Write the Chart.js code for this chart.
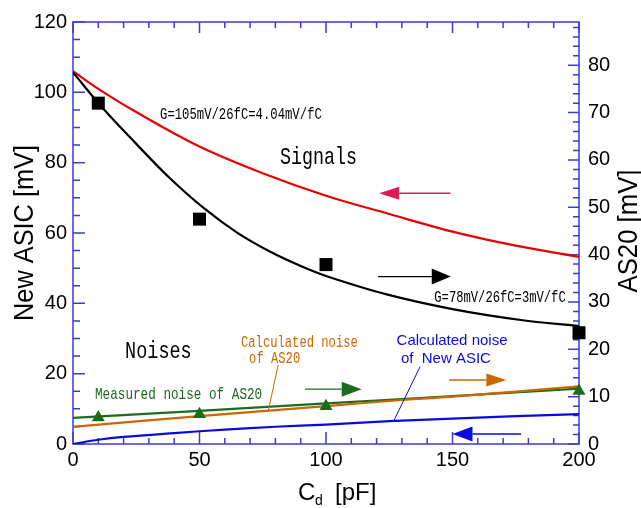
<!DOCTYPE html>
<html>
<head>
<meta charset="utf-8">
<script src="https://cdn.jsdelivr.net/npm/chart.js@4.4.1/dist/chart.umd.min.js"></script>
<style>
  html, body { margin: 0; padding: 0; background: #fff; }
  #wrap { position: relative; width: 641px; height: 508px; }
</style>
</head>
<body>
<div id="wrap"><canvas id="cdChart"></canvas></div>
<script>
(function () {
  "use strict";

  // signal gains at Cd = 0 (mV for 26 fC), used to line up the two y axes
  var asicGain = 105;
  var as20Gain = 78;

  var xTicks = [0, 50, 100, 150, 200];

  // New ASIC signal (left axis)
  var asicSignalCd = [0, 10, 25, 50, 75, 100, 125, 150, 175, 200];
  var asicSignalMv = [106, 101, 94.4, 84.6, 77, 70.6, 65.4, 60.4, 56.4, 53.2];

  // AS20 signal curve and measured points (right axis)
  var as20FitCd = [0, 12, 25, 38, 52, 65, 78, 90, 100, 124, 150, 177, 200];
  var as20FitMv = [78.5, 70.8, 63.4, 56.3, 49.7, 44.6, 40.6, 37.6, 35.5, 31.6, 28.5, 26.2, 24.9];
  var as20MeasCd = [10, 50, 100, 200];
  var as20MeasMv = [72.0, 47.5, 37.9, 23.5];

  // noises
  var as20NoiseLineCd = [0, 50, 100, 150, 200];
  var as20NoiseLineMv = [5.5, 7.0, 8.6, 10.1, 11.7];
  var as20NoiseMeasCd = [10, 50, 100, 200];
  var as20NoiseMeasMv = [5.6, 6.3, 8.0, 11.2];
  var as20NoiseCalcCd = [0, 50, 100, 130, 150, 200];
  var as20NoiseCalcMv = [3.6, 5.9, 8.0, 9.3, 10.0, 12.2];
  var asicNoiseCd = [0, 10, 20, 40, 60, 80, 100, 125, 150, 175, 200];
  var asicNoiseMv = [0, 1.2, 2.0, 3.1, 4.1, 4.9, 5.5, 6.5, 7.2, 7.9, 8.5];

  var AXIS_BLUE = "#3b3bd8";
  var GREEN = "#1d6b1d";
  var ORANGE = "#cc6600";
  var BLUE = "#0a0ae0";
  var RED = "#e60000";
  var SANS = '"Liberation Sans", Arial, sans-serif';
  var MONO = '"Liberation Mono", "DejaVu Sans Mono", monospace';

  function pts(xs, ys) {
    var out = [];
    for (var i = 0; i < xs.length; i++) out.push({ x: xs[i], y: ys[i] });
    return out;
  }

  function lineSet(xs, ys, color, axis) {
    return {
      data: pts(xs, ys),
      yAxisID: axis,
      showLine: true,
      borderColor: color,
      borderWidth: 2.2,
      pointRadius: 0,
      fill: false,
      tension: 0.35,
    };
  }

  function markerSet(xs, ys, color, axis, style, r) {
    return {
      data: pts(xs, ys),
      yAxisID: axis,
      showLine: false,
      pointStyle: style,
      pointRadius: r,
      pointBackgroundColor: color,
      pointBorderColor: color,
      pointBorderWidth: 0,
      clip: false,
    };
  }

  // text squeezed horizontally to a given total width
  function fitText(ctx, str, x, y, font, width, color, align) {
    ctx.save();
    ctx.font = font;
    var w = ctx.measureText(str).width;
    ctx.translate(x, y);
    ctx.scale(width / w, 1);
    ctx.fillStyle = color;
    ctx.textAlign = align || "left";
    ctx.textBaseline = "middle";
    ctx.fillText(str, 0, 0);
    ctx.restore();
  }

  function arrow(ctx, x0, x1, y, head, half, color) {
    var dir = x1 > x0 ? 1 : -1;
    ctx.save();
    ctx.strokeStyle = color;
    ctx.fillStyle = color;
    ctx.lineWidth = 1.4;
    ctx.beginPath();
    ctx.moveTo(x0, y);
    ctx.lineTo(x1 - dir * head, y);
    ctx.stroke();
    ctx.beginPath();
    ctx.moveTo(x1, y);
    ctx.lineTo(x1 - dir * head, y - half);
    ctx.lineTo(x1 - dir * head, y + half);
    ctx.closePath();
    ctx.fill();
    ctx.restore();
  }

  // blue frame with inward ticks on all four sides
  var framePlugin = {
    id: "frame",
    beforeDatasetsDraw: function (chart) {
      var a = chart.chartArea, ctx = chart.ctx;
      var sx = chart.scales.x, sl = chart.scales.y, sr = chart.scales.y2;
      var v, p, len;
      ctx.save();
      ctx.strokeStyle = AXIS_BLUE;
      ctx.lineWidth = 1.5;
      ctx.strokeRect(a.left, a.top, a.right - a.left, a.bottom - a.top);
      ctx.beginPath();
      for (v = 0; v <= 200; v += 10) {
        p = sx.getPixelForValue(v);
        len = v % 50 === 0 ? 12 : 6;
        ctx.moveTo(p, a.bottom); ctx.lineTo(p, a.bottom - len);
        len = v % 50 === 0 ? 11 : 6;
        ctx.moveTo(p, a.top); ctx.lineTo(p, a.top + len);
      }
      for (v = 0; v <= 120; v += 5) {
        p = sl.getPixelForValue(v);
        len = v % 20 === 0 ? 12 : 7;
        ctx.moveTo(a.left, p); ctx.lineTo(a.left + len, p);
      }
      for (v = 0; v <= sr.max; v += 2) {
        p = sr.getPixelForValue(v);
        len = v % 10 === 0 ? 11 : 6;
        ctx.moveTo(a.right, p); ctx.lineTo(a.right - len, p);
      }
      ctx.stroke();
      ctx.restore();
    },
    afterDraw: function (chart) {
      var ctx = chart.ctx, a = chart.chartArea;
      var sx = chart.scales.x, sl = chart.scales.y;
      function X(c) { return sx.getPixelForValue(c); }
      function Y(v) { return sl.getPixelForValue(v); }

      // axis titles
      ctx.save();
      ctx.translate(33, (a.top + a.bottom) / 2);
      ctx.rotate(-Math.PI / 2);
      ctx.font = "27px " + SANS;
      var t = "New ASIC [mV]";
      var w = ctx.measureText(t).width;
      ctx.scale(176 / w, 1);
      ctx.fillStyle = "#000";
      ctx.textAlign = "center";
      ctx.textBaseline = "alphabetic";
      ctx.fillText(t, 0, 0);
      ctx.restore();

      ctx.save();
      ctx.translate(637, 231);
      ctx.rotate(-Math.PI / 2);
      ctx.font = "27px " + SANS;
      t = "AS20 [mV]";
      w = ctx.measureText(t).width;
      ctx.scale(123 / w, 1);
      ctx.fillStyle = "#000";
      ctx.textAlign = "center";
      ctx.textBaseline = "alphabetic";
      ctx.fillText(t, 0, 0);
      ctx.restore();

      ctx.save();
      ctx.fillStyle = "#000";
      ctx.textBaseline = "alphabetic";
      ctx.textAlign = "left";
      ctx.font = "24px " + SANS;
      ctx.fillText("C", 298, 500);
      ctx.fillText("[pF]", 335, 500);
      ctx.font = "14px " + SANS;
      ctx.fillText("d", 315, 505);
      ctx.restore();

      // labels inside the plot
      fitText(ctx, "G=105mV/26fC=4.04mV/fC", X(34.4), Y(93.8), "17px " + MONO, 22 * 7.35, "#000");
      fitText(ctx, "Signals", X(81.8), Y(81.3), "24px " + MONO, 7 * 11, "#000");
      fitText(ctx, "G=78mV/26fC=3mV/fC", X(142.8), Y(41.6), "17px " + MONO, 18 * 7.3, "#000");
      fitText(ctx, "Noises", X(20.6), Y(26.2), "24px " + MONO, 6 * 11.1, "#000");
      fitText(ctx, "Measured noise of AS20", X(8.7), Y(14.2), "17px " + MONO, 22 * 7.6, GREEN);
      fitText(ctx, "Calculated noise", X(66.4), Y(29.0), "17px " + MONO, 16 * 7.3, ORANGE);
      fitText(ctx, "of AS20", X(69.6), Y(24.4), "17px " + MONO, 7 * 7.3, ORANGE);

      ctx.save();
      ctx.fillStyle = BLUE;
      ctx.font = "15px " + SANS;
      ctx.textBaseline = "middle";
      ctx.fillText("Calculated noise", X(127.9), Y(29.3));
      ctx.fillText("of  New ASIC", X(129.6), Y(24.2));
      ctx.restore();

      // leader lines from the noise labels to their curves
      ctx.save();
      ctx.lineWidth = 1;
      ctx.strokeStyle = ORANGE;
      ctx.beginPath();
      ctx.moveTo(X(81.1), Y(22.5));
      ctx.lineTo(X(77.2), Y(9.5));
      ctx.stroke();
      ctx.strokeStyle = BLUE;
      ctx.beginPath();
      ctx.moveTo(X(137.2), Y(22.0));
      ctx.lineTo(X(126.6), Y(6.3));
      ctx.stroke();
      ctx.restore();

      // arrows pointing to the axis each curve is read on
      arrow(ctx, X(149.2), X(121.0), Y(71.3), 20, 6.5, "#dc1c58");
      arrow(ctx, X(120.6), X(149.3), Y(47.6), 19, 8, "#000");
      arrow(ctx, X(91.7), X(114.1), Y(15.6), 20, 7.5, GREEN);
      arrow(ctx, X(148.7), X(171.3), Y(18.2), 20, 6.5, ORANGE);
      arrow(ctx, X(177.1), X(150.0), Y(2.85), 20, 7.5, BLUE);
    },
  };

  var tickFont = { family: SANS, size: 20 };

  new Chart(document.getElementById("cdChart").getContext("2d"), {
    type: "scatter",
    data: {
      datasets: [
        markerSet(as20MeasCd, as20MeasMv, "#000", "y2", "rect", 9.2),
        markerSet(as20NoiseMeasCd, as20NoiseMeasMv, GREEN, "y2", "triangle", 7.5),
        lineSet(as20NoiseCalcCd, as20NoiseCalcMv, ORANGE, "y2"),
        lineSet(as20NoiseLineCd, as20NoiseLineMv, GREEN, "y2"),
        lineSet(asicNoiseCd, asicNoiseMv, BLUE, "y"),
        lineSet(as20FitCd, as20FitMv, "#000", "y2"),
        lineSet(asicSignalCd, asicSignalMv, RED, "y"),
      ],
    },
    options: {
      responsive: true,
      maintainAspectRatio: false,
      devicePixelRatio: 1,
      animation: false,
      layout: { padding: { top: 22, left: 0, right: 0, bottom: 0 } },
      plugins: { legend: { display: false }, tooltip: { enabled: false } },
      scales: {
        x: {
          type: "linear",
          min: 0,
          max: 200,
          afterBuildTicks: function (s) {
            s.ticks = xTicks.map(function (v) { return { value: v }; });
          },
          ticks: { font: tickFont, color: "#000", padding: 4, maxRotation: 0 },
          grid: { display: false, drawTicks: false },
          border: { display: false },
          afterFit: function (s) { s.height = 64; },
        },
        y: {
          position: "left",
          min: 0,
          max: 120,
          ticks: { stepSize: 20, font: tickFont, color: "#000", padding: 6 },
          grid: { display: false, drawTicks: false },
          border: { display: false },
          afterFit: function (s) { s.width = 73; },
        },
        y2: {
          position: "right",
          min: 0,
          max: 120 * as20Gain / asicGain,
          ticks: { stepSize: 10, includeBounds: false, font: tickFont, color: "#000", padding: 9 },
          grid: { display: false, drawTicks: false },
          border: { display: false },
          afterFit: function (s) { s.width = 62; },
        },
      },
    },
    plugins: [framePlugin],
  });
})();
</script>
</body>
</html>
